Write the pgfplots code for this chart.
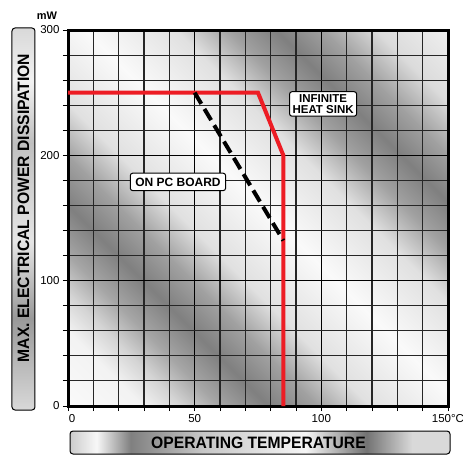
\documentclass[border=0pt]{standalone}
\usepackage{fontspec}
\setmainfont{Liberation Sans}
\newfontfamily\labfont[FakeStretch=0.95]{Liberation Sans}
\usepackage{pgfplots}
\pgfplotsset{compat=1.18}
\definecolor{rline}{RGB}{237,28,36}
\pgfdeclarehorizontalshading{bands}{100bp}{color(0bp)=(black!2); color(25bp)=(black!2); color(30bp)=(black!5); color(32.5bp)=(black!17); color(35bp)=(black!35); color(38.25bp)=(black!50); color(41.5bp)=(black!37); color(45bp)=(black!12); color(51bp)=(black!2); color(57bp)=(black!12); color(60.5bp)=(black!37); color(63.6bp)=(black!50); color(66.75bp)=(black!37); color(70.25bp)=(black!14); color(75bp)=(black!6); color(100bp)=(black!6)}
\pgfdeclarehorizontalshading{xlab}{100bp}{color(0bp)=(black!20); color(25bp)=(black!20); color(28.5bp)=(black!3); color(33bp)=(black!50); color(42.5bp)=(black!22); color(56bp)=(black!4); color(64bp)=(black!55); color(70bp)=(black!15); color(75bp)=(black!15); color(100bp)=(black!15)}
\pgfdeclarehorizontalshading{ylab}{100bp}{color(0bp)=(black!15); color(25bp)=(black!15); color(37bp)=(black!40); color(47bp)=(black!10); color(60bp)=(black!25); color(68bp)=(black!5); color(75bp)=(black!15); color(100bp)=(black!15)}
\begin{document}
\begin{tikzpicture}
\useasboundingbox (-68pt,-50pt) rectangle (395pt,406pt);
\begin{scope}
\clip (0pt,0pt) rectangle (380pt,376pt);
\shade[shading=bands, transform canvas={rotate around={45:(190pt,188pt)}}] (-77.3pt,-79.3pt) rectangle (457.3pt,455.3pt);
\end{scope}
\begin{axis}[
  at={(0pt,0pt)}, anchor=south west,
  width=380pt, height=376pt, scale only axis,
  xmin=0, xmax=150, ymin=0, ymax=300,
  xtick={0,50,100,150}, xticklabels={{\hspace{8pt}0},50,100,150°C},
  ytick={0,100,200,300},
  minor x tick num=4, minor y tick num=4,
  grid=both,
  major grid style={black, line width=1.2pt},
  minor grid style={black!85, line width=1.1pt},
  tick align=outside, xtick pos=left, ytick pos=left,
  major tick length=5pt, minor tick length=5pt,
  every tick/.append style={black, line width=1pt},
  axis line style={line width=3pt},
  tick label style={font=\fontsize{11.5}{12}\selectfont},
  /pgf/number format/assume math mode=true,
]
\addplot[rline, line width=4pt] coordinates {(0,250) (75,250) (85,200) (85,0)};
\addplot[black, line width=4pt, dash pattern=on 13pt off 6pt] coordinates {(50,250) (85,132)};
\node[draw, fill=white, rounded corners=2.5pt, line width=1pt, inner xsep=5pt, inner ysep=4.5pt, font=\fontsize{12}{12}\selectfont\bfseries] at (axis cs:43.4,178.8) {ON PC BOARD};
\node[draw, fill=white, rounded corners=2.5pt, line width=1pt, inner xsep=3pt, inner ysep=3pt, align=center, font=\fontsize{11.5}{10.5}\selectfont\bfseries] at (axis cs:100.7,241) {INFINITE\\HEAT SINK};
\end{axis}
\node[font=\fontsize{11}{11}\selectfont\bfseries] at (-21pt,390pt) {mW};
\shade[shading=ylab, shading angle=90, rounded corners=3pt] (-56pt,-4pt) rectangle (-33pt,378pt);
\draw[line width=1pt, rounded corners=3pt] (-56pt,-4pt) rectangle (-33pt,378pt);
\node[rotate=90, font=\labfont\fontsize{16.5}{16.5}\selectfont\bfseries] at (-44.5pt,198pt) {MAX. ELECTRICAL POWER DISSIPATION};
\shade[shading=xlab, rounded corners=3pt] (2pt,-25pt) rectangle (382pt,-48pt);
\draw[line width=1pt, rounded corners=3pt] (2pt,-25pt) rectangle (382pt,-48pt);
\node[font=\labfont\fontsize{16.5}{16.5}\selectfont\bfseries] at (190.5pt,-36.5pt) {OPERATING TEMPERATURE};
\end{tikzpicture}
\end{document}
